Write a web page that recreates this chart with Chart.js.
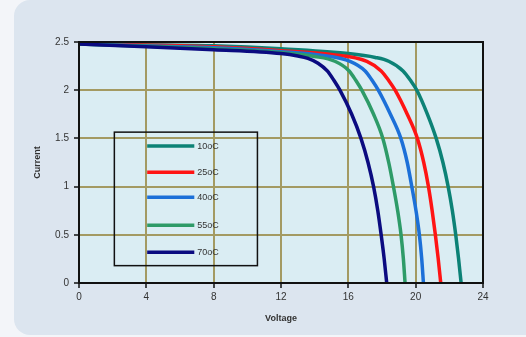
<!DOCTYPE html>
<html>
<head>
<meta charset="utf-8">
<script src="https://cdn.jsdelivr.net/npm/chart.js@4/dist/chart.umd.min.js"></script>
<style>
  html, body { margin:0; padding:0; background:#f3f5f9; }
  #wrap { position:relative; width:526px; height:337px; overflow:hidden; }
  #panel { position:absolute; left:14px; top:0; width:540px; height:335px; background:#dce5ef; border-radius:16px; }
  canvas { position:absolute; left:0; top:0; }
</style>
</head>
<body>
<div id="wrap"><div id="panel"></div><canvas id="c" width="526" height="337"></canvas></div>
<script>
// Series: voltage (V) and current (I) pairs
const seriesNames = ["10oC", "25oC", "40oC", "55oC", "70oC"];
const v10 = [0, 8, 12, 16, 17.6, 18.4, 19.25, 19.7, 20.07, 20.7, 21.22, 21.62, 21.93, 22.18, 22.38, 22.55, 22.7];
const i10 = [2.48, 2.46, 2.43, 2.38, 2.34, 2.30, 2.20, 2.10, 2.00, 1.75, 1.50, 1.25, 1.00, 0.75, 0.50, 0.25, 0];
const v25 = [0, 6, 8, 12, 15, 17.1, 17.95, 18.4, 18.78, 19.5, 20.1, 20.48, 20.76, 20.98, 21.17, 21.34, 21.49];
const i25 = [2.48, 2.46, 2.45, 2.41, 2.37, 2.30, 2.20, 2.10, 2.00, 1.75, 1.50, 1.25, 1.00, 0.75, 0.50, 0.25, 0];
const v40 = [0, 6, 8, 12, 14.5, 16.1, 17.0, 17.42, 17.78, 18.5, 19.12, 19.5, 19.77, 20.02, 20.22, 20.36, 20.46];
const i40 = [2.48, 2.45, 2.44, 2.40, 2.36, 2.30, 2.20, 2.10, 2.00, 1.75, 1.50, 1.25, 1.00, 0.75, 0.50, 0.25, 0];
const v55 = [0, 5, 8, 12, 14, 15.2, 16.05, 16.45, 16.8, 17.5, 18.05, 18.4, 18.68, 18.93, 19.13, 19.27, 19.37];
const i55 = [2.48, 2.45, 2.43, 2.39, 2.35, 2.30, 2.20, 2.10, 2.00, 1.75, 1.50, 1.25, 1.00, 0.75, 0.50, 0.25, 0];
const v70 = [0, 4, 8, 12, 13, 13.6, 14.2, 14.75, 15.15, 15.5, 16.2, 16.75, 17.17, 17.5, 17.75, 17.95, 18.13, 18.28];
const i70 = [2.48, 2.45, 2.42, 2.38, 2.355, 2.33, 2.28, 2.20, 2.10, 2.00, 1.75, 1.50, 1.25, 1.00, 0.75, 0.50, 0.25, 0];
const colors = ["#0c8276", "#ff1414", "#1c70d8", "#2e9b68", "#0b0b80"];
const xTicks = [0, 4, 8, 12, 16, 20, 24];
const yTicks = [0, 0.5, 1, 1.5, 2, 2.5];

const vs = [v10, v25, v40, v55, v70];
const is = [i10, i25, i40, i55, i70];
const datasets = seriesNames.map((n, k) => ({
  label: n,
  data: vs[k].map((v, j) => ({x: v, y: is[k][j]})),
  borderColor: colors[k],
  backgroundColor: colors[k],
  borderWidth: 3.5,
  pointRadius: 0,
  showLine: true,
  cubicInterpolationMode: 'monotone',
  order: 5 - k,
  clip: 4
}));

const bgPlugin = {
  id: 'bg',
  beforeDraw(chart) {
    const {ctx, chartArea: a} = chart;
    ctx.save();
    ctx.fillStyle = '#daedf3';
    ctx.fillRect(a.left, a.top, a.right - a.left, a.bottom - a.top);
    ctx.restore();
  },
  afterDatasetsDraw(chart) {
    const {ctx, chartArea: a, scales} = chart;
    ctx.save();
    ctx.strokeStyle = '#111';
    ctx.lineWidth = 2;
    ctx.strokeRect(a.left, a.top, a.right - a.left, a.bottom - a.top);
    // legend box
    const x0 = scales.x.getPixelForValue(2.1), x1 = scales.x.getPixelForValue(10.6);
    const y0 = scales.y.getPixelForValue(1.565), y1 = scales.y.getPixelForValue(0.18);
    ctx.lineWidth = 1.5;
    ctx.strokeRect(x0, y0, x1 - x0, y1 - y0);
    const lx0 = scales.x.getPixelForValue(4.05), lx1 = scales.x.getPixelForValue(6.85);
    const rows = [1.42, 1.15, 0.89, 0.60, 0.32];
    ctx.font = '9px "Liberation Sans", Arial, sans-serif';
    ctx.textBaseline = 'middle';
    seriesNames.forEach((n, k) => {
      const y = scales.y.getPixelForValue(rows[k]);
      ctx.strokeStyle = colors[k];
      ctx.lineWidth = 3.5;
      ctx.beginPath(); ctx.moveTo(lx0, y); ctx.lineTo(lx1, y); ctx.stroke();
      ctx.fillStyle = '#333';
      ctx.fillText(n, lx1 + 3, y + 0.5);
    });
    ctx.restore();
  }
};

new Chart(document.getElementById('c'), {
  type: 'scatter',
  data: { datasets },
  plugins: [bgPlugin],
  options: {
    responsive: false,
    animation: false,
    devicePixelRatio: 1,
    layout: { padding: { left: 28, right: 43, top: 42, bottom: 9 } },
    plugins: { legend: { display: false }, tooltip: { enabled: false } },
    scales: {
      x: {
        type: 'linear', min: 0, max: 24,
        afterBuildTicks(s) { s.ticks = xTicks.map(v => ({value: v})); },
        afterFit(s) { s.height = 45; },
        grid: { color: '#a39a62', lineWidth: 2, tickColor: '#111', tickLength: 5, tickWidth: 1.5 },
        border: { color: '#111', width: 2 },
        ticks: { color: '#333', padding: 3, callback: v => String(v), font: { family: '"Liberation Sans", Arial, sans-serif', size: 10 }, maxRotation: 0 },
        title: { display: true, text: 'Voltage', color: '#333', padding: { top: 2, bottom: 4 }, font: { family: '"Liberation Sans", Arial, sans-serif', size: 9, weight: 'bold' } }
      },
      y: {
        type: 'linear', min: 0, max: 2.5,
        afterBuildTicks(s) { s.ticks = yTicks.map(v => ({value: v})); },
        afterFit(s) { s.width = 51; },
        grid: { color: '#a39a62', lineWidth: 2, tickColor: '#111', tickLength: 5, tickWidth: 1.5 },
        border: { color: '#111', width: 2 },
        ticks: { color: '#333', padding: 5, callback: v => String(v), font: { family: '"Liberation Sans", Arial, sans-serif', size: 10 } },
        title: { display: true, text: 'Current', color: '#333', padding: { top: 4, bottom: 2 }, font: { family: '"Liberation Sans", Arial, sans-serif', size: 9, weight: 'bold' } }
      }
    }
  }
});
</script>
</body>
</html>
